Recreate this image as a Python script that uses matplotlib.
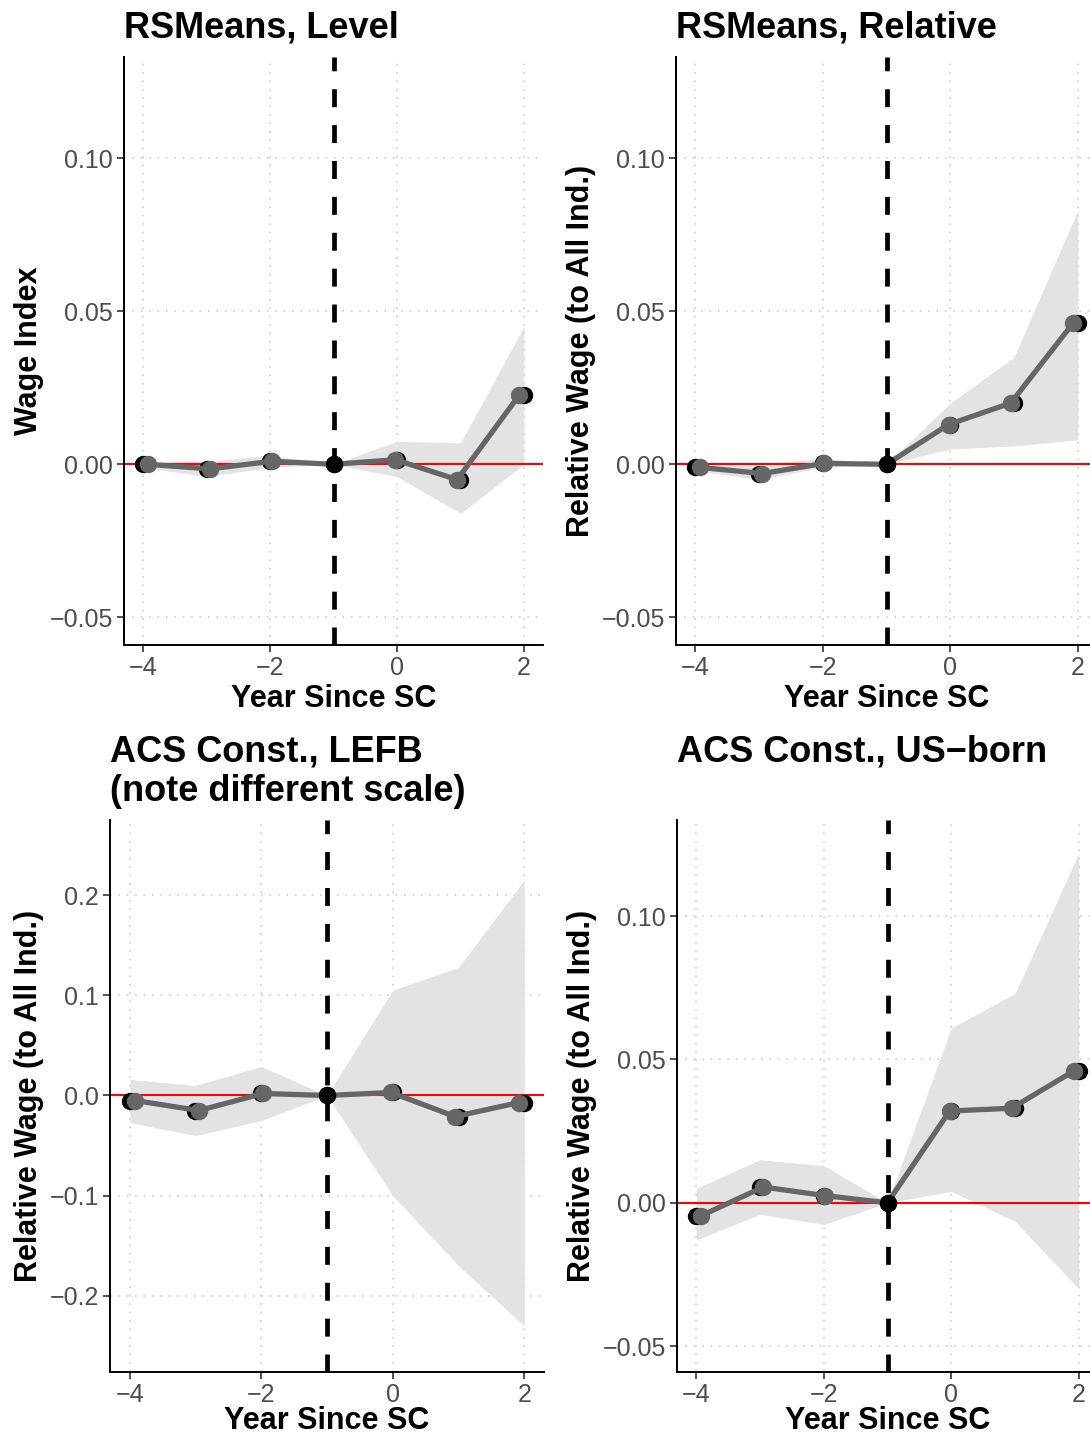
import numpy as np
import matplotlib
matplotlib.use("Agg")
import matplotlib.pyplot as plt
from matplotlib.transforms import ScaledTranslation

plt.rcParams['font.family'] = ['Liberation Sans', 'DejaVu Sans']

# event time
years = [-4, -3, -2, -1, 0, 1, 2]

# RSMeans, Level
lvl_est = [0.000, -0.0015, 0.001, 0.0, 0.0015, -0.005, 0.0225]
lvl_lo = [-0.001, -0.004, -0.001, 0.0, -0.004, -0.016, 0.000]
lvl_hi = [0.001, 0.001, 0.003, 0.0, 0.0075, 0.007, 0.045]

# RSMeans, Relative
rel_est = [-0.001, -0.003, 0.0003, 0.0, 0.013, 0.020, 0.046]
rel_lo = [-0.002, -0.005, -0.001, 0.0, 0.005, 0.006, 0.008]
rel_hi = [0.000, 0.000, 0.002, 0.0, 0.020, 0.035, 0.083]

# ACS Const., LEFB
lefb_est = [-0.005, -0.015, 0.002, 0.0, 0.003, -0.021, -0.007]
lefb_lo = [-0.027, -0.040, -0.025, 0.0, -0.100, -0.170, -0.230]
lefb_hi = [0.016, 0.010, 0.029, 0.0, 0.105, 0.128, 0.215]

# ACS Const., US-born
usb_est = [-0.0045, 0.0055, 0.0025, 0.0, 0.032, 0.033, 0.046]
usb_lo = [-0.013, -0.004, -0.0075, 0.0, 0.004, -0.0065, -0.030]
usb_hi = [0.005, 0.015, 0.013, 0.0, 0.061, 0.073, 0.122]

W, H = 1090, 1437
fig = plt.figure(figsize=(W / 100, H / 100), dpi=100)


def box(l, r, t, b):
    return [l / W, (H - b) / H, (r - l) / W, (b - t) / H]


panels = [
    dict(rect=box(124, 543, 57, 645), est=lvl_est, lo=lvl_lo, hi=lvl_hi,
         title=["RSMeans, Level"], ylab="Wage Index", row=1,
         ylim=(-0.059, 0.133), yt=[-0.05, 0.0, 0.05, 0.10], fmt="{:.2f}"),
    dict(rect=box(676, 1097, 57, 645), est=rel_est, lo=rel_lo, hi=rel_hi,
         title=["RSMeans, Relative"], ylab="Relative Wage (to All Ind.)", row=1,
         ylim=(-0.059, 0.133), yt=[-0.05, 0.0, 0.05, 0.10], fmt="{:.2f}"),
    dict(rect=box(110, 544, 820, 1372), est=lefb_est, lo=lefb_lo, hi=lefb_hi,
         title=["ACS Const., LEFB", "(note different scale)"],
         ylab="Relative Wage (to All Ind.)", row=2,
         ylim=(-0.276, 0.275), yt=[-0.2, -0.1, 0.0, 0.1, 0.2], fmt="{:.1f}"),
    dict(rect=box(677, 1098, 820, 1372), est=usb_est, lo=usb_lo, hi=usb_hi,
         title=["ACS Const., US\u2212born"], ylab="Relative Wage (to All Ind.)", row=2,
         ylim=(-0.059, 0.1335), yt=[-0.05, 0.0, 0.05, 0.10], fmt="{:.2f}"),
]

x = np.array(years, dtype=float)
# gray layer sits slightly inside the black points (as in original)
xg = -1 + (x + 1) * 0.974

for p in panels:
    ax = fig.add_axes(p["rect"])
    ax.set_xlim(-4.3, 2.3)
    ax.set_ylim(*p["ylim"])
    for s in ["top", "right"]:
        ax.spines[s].set_visible(False)
    for s in ["left", "bottom"]:
        ax.spines[s].set_linewidth(1.4)
    ax.set_xticks([-4, -2, 0, 2])
    ax.set_xticklabels(["\u22124", "\u22122", "0", "2"])
    ax.set_yticks(p["yt"])
    ax.set_yticklabels([p["fmt"].format(v).replace("-", "\u2212") for v in p["yt"]])
    ax.tick_params(labelsize=18, labelcolor="#4d4d4d", length=5, width=1.2,
                   color="#333333", pad=3)
    ax.grid(True, linestyle=(0, (1, 4.5)), color="#c4c4c4", linewidth=1.1)
    ax.set_axisbelow(True)

    ax.fill_between(x, p["lo"], p["hi"], color="#e3e3e3", linewidth=0, zorder=1)
    ax.axhline(0, color="red", linewidth=1.5, zorder=2)
    ax.axvline(-1, color="black", linewidth=3.4, linestyle=(0, (3.8, 3.8)), zorder=5)
    ax.plot(x, p["est"], "o", color="black", markersize=11.5, zorder=3)
    est = np.array(p["est"])
    ax.plot(xg, est, color="#666666", linewidth=3.8, zorder=4,
            solid_capstyle="round")
    keep = x != -1
    ax.plot(xg[keep], est[keep], "o", color="#666666", markersize=11.5, zorder=4)
    ax.plot([-1], [0], "o", color="black", markersize=11.5, zorder=4.5)

    ax.set_xlabel("Year Since SC", fontsize=22, fontweight="bold",
                  labelpad=3 if p["row"] == 1 else -1)
    ax.set_ylabel(p["ylab"], fontsize=22, fontweight="bold", labelpad=4)

    # titles: lines stacked up from the panel top, rows share the first line
    nrow = max(len(q["title"]) for q in panels if q["row"] == p["row"])
    for i, line in enumerate(p["title"]):
        up = 19 + (nrow - 1 - i) * 39.5
        tr = ax.transAxes + ScaledTranslation(0, up / 100, fig.dpi_scale_trans)
        ax.text(0, 1, line, transform=tr, fontsize=26, fontweight="bold",
                ha="left", va="baseline")

fig.savefig("out.png", dpi=100)
